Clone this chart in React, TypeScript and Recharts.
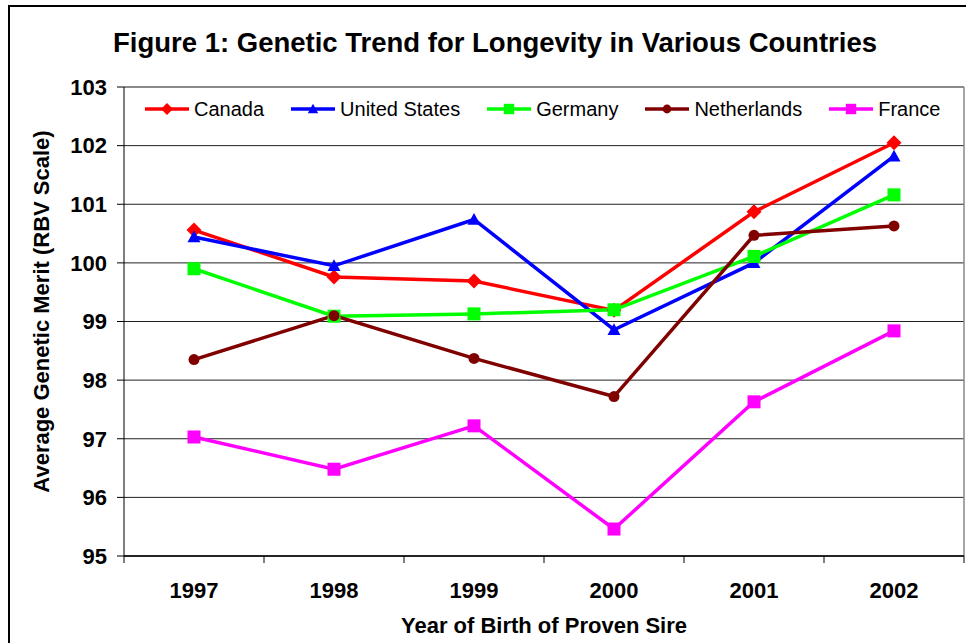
import React from 'react';
import { LineChart, Line, XAxis, YAxis, CartesianGrid, Legend, ReferenceLine } from 'recharts';

const years = ['1997', '1998', '1999', '2000', '2001', '2002'];
const canada = [100.56, 99.76, 99.69, 99.19, 100.87, 102.05];
const unitedStates = [100.44, 99.95, 100.74, 98.86, 100.0, 101.82];
const germany = [99.9, 99.09, 99.13, 99.2, 100.11, 101.16];
const netherlands = [98.35, 99.1, 98.37, 97.72, 100.47, 100.63];
const france = [97.03, 96.48, 97.22, 95.46, 97.63, 98.84];
const yTicks = [95, 96, 97, 98, 99, 100, 101, 102, 103];

const FONT = '"Liberation Sans", Arial, sans-serif';

type Shape = 'diamond' | 'triangle' | 'square' | 'circle';

const series: { key: string; values: number[]; color: string; shape: Shape }[] = [
  { key: 'Canada', values: canada, color: '#FF0000', shape: 'diamond' },
  { key: 'United States', values: unitedStates, color: '#0000FF', shape: 'triangle' },
  { key: 'Germany', values: germany, color: '#00FF00', shape: 'square' },
  { key: 'Netherlands', values: netherlands, color: '#800000', shape: 'circle' },
  { key: 'France', values: france, color: '#FF00FF', shape: 'square' },
];

const data = years.map((year, i) => {
  const row: Record<string, number | string> = { pos: i + 0.5, year };
  series.forEach((s) => {
    row[s.key] = s.values[i];
  });
  return row;
});

const xTicks: number[] = [];
years.forEach((_, i) => {
  xTicks.push(i, i + 0.5);
});
xTicks.push(years.length);

function marker(shape: Shape, cx: number, cy: number, color: string, k = 1) {
  switch (shape) {
    case 'diamond': {
      const r = 7.5 * k;
      return <polygon points={`${cx},${cy - r} ${cx + r},${cy} ${cx},${cy + r} ${cx - r},${cy}`} fill={color} />;
    }
    case 'triangle': {
      const r = 6.5 * k;
      return <polygon points={`${cx},${cy - r} ${cx + r},${cy + r * 0.8} ${cx - r},${cy + r * 0.8}`} fill={color} />;
    }
    case 'square': {
      const r = 6.5 * k;
      return <rect x={cx - r} y={cy - r} width={2 * r} height={2 * r} fill={color} />;
    }
    default:
      return <circle cx={cx} cy={cy} r={5.5 * k} fill={color} />;
  }
}

const XTick = (props: any) => {
  const { x, y, payload } = props;
  const v = payload.value as number;
  if (Number.isInteger(v)) {
    return <line x1={x} y1={y} x2={x} y2={y + 7} stroke="#000" strokeWidth={1} />;
  }
  return (
    <text x={x} y={y + 42} textAnchor="middle" fontFamily={FONT} fontSize={22} fontWeight="bold" fill="#000">
      {years[Math.floor(v)]}
    </text>
  );
};

const YTitle = (props: any) => {
  const vb = props.viewBox || { x: 9, y: 87, width: 115, height: 469 };
  const cx = vb.x + 40;
  const cy = vb.y + vb.height / 2 - 10;
  return (
    <text
      x={cx}
      y={cy}
      transform={`rotate(-90 ${cx} ${cy})`}
      textAnchor="middle"
      fontFamily={FONT}
      fontSize={22}
      fontWeight="bold"
      fill="#000"
    >
      Average Genetic Merit (RBV Scale)
    </text>
  );
};

const XTitle = (props: any) => {
  const vb = props.viewBox || { x: 124, y: 556, width: 840, height: 87 };
  return (
    <text
      x={vb.x + vb.width / 2}
      y={vb.y + 77}
      textAnchor="middle"
      fontFamily={FONT}
      fontSize={22}
      fontWeight="bold"
      fill="#000"
    >
      Year of Birth of Proven Sire
    </text>
  );
};

const LegendContent = () => (
  <div style={{ display: 'flex', alignItems: 'center', gap: 26, fontFamily: FONT, fontSize: 20, color: '#000', height: 24 }}>
    {series.map((s) => (
      <div key={s.key} style={{ display: 'flex', alignItems: 'center', whiteSpace: 'nowrap' }}>
        <svg width={46} height={24} style={{ display: 'block' }}>
          <line x1={1} y1={12} x2={45} y2={12} stroke={s.color} strokeWidth={3.5} />
          {marker(s.shape, 23, 12, s.color, 0.8)}
        </svg>
        <span style={{ marginLeft: 4, lineHeight: '24px' }}>{s.key}</span>
      </div>
    ))}
  </div>
);

export default function App() {
  return (
    <div style={{ position: 'absolute', left: 0, top: 0, width: 966, height: 643, overflow: 'hidden', background: '#fff' }}>
      <div
        style={{
          position: 'absolute',
          left: 8,
          top: 5,
          width: 1000,
          height: 700,
          border: '2px solid #000',
          boxSizing: 'border-box',
        }}
      />
      <div
        style={{
          position: 'absolute',
          left: 0,
          top: 27,
          width: 990,
          textAlign: 'center',
          fontFamily: FONT,
          fontSize: 27.5,
          fontWeight: 'bold',
          lineHeight: '32px',
          color: '#000',
          whiteSpace: 'nowrap',
        }}
      >
        Figure 1: Genetic Trend for Longevity in Various Countries
      </div>
      <div style={{ position: 'absolute', left: 0, top: 0 }}>
        <LineChart width={966} height={643} data={data} margin={{ top: 87, right: 2, bottom: 0, left: 9 }}>
          <CartesianGrid vertical={false} stroke="#222" strokeWidth={1} />
          <XAxis
            type="number"
            dataKey="pos"
            domain={[0, 6]}
            ticks={xTicks}
            interval={0}
            tickLine={false}
            tickSize={0}
            tickMargin={0}
            axisLine={{ stroke: '#000', strokeWidth: 1.5 }}
            height={87}
            tick={<XTick />}
            label={<XTitle />}
          />
          <YAxis
            type="number"
            domain={[95, 103]}
            ticks={yTicks}
            interval={0}
            width={115}
            tickSize={7}
            tickMargin={10}
            axisLine={{ stroke: '#000' }}
            tickLine={{ stroke: '#000' }}
            tick={{ fontFamily: FONT, fontSize: 22, fontWeight: 'bold', fill: '#000' }}
            label={<YTitle />}
          />
          <ReferenceLine y={103} stroke="#888" strokeWidth={1.5} />
          <ReferenceLine x={6} stroke="#888" strokeWidth={1.5} />
          <Legend
            verticalAlign="middle"
            align="center"
            layout="horizontal"
            wrapperStyle={{ top: 97, left: 144, width: 820, height: 24 }}
            content={<LegendContent />}
          />
          {series.map((s) => (
            <Line
              key={s.key}
              type="linear"
              dataKey={s.key}
              stroke={s.color}
              strokeWidth={3.5}
              isAnimationActive={false}
              dot={(p: any) => <g key={`${s.key}-${p.index}`}>{marker(s.shape, p.cx, p.cy, s.color)}</g>}
              activeDot={false}
            />
          ))}
        </LineChart>
      </div>
    </div>
  );
}
